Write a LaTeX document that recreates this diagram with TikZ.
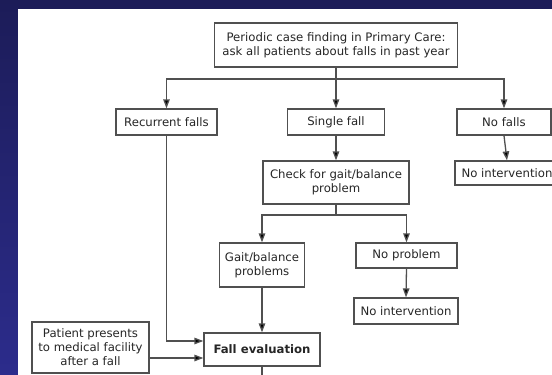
\documentclass[tikz,border=0pt]{standalone}
\usepackage{fontspec}
\setmainfont{DejaVu Sans}
\usetikzlibrary{arrows.meta}
\definecolor{navy}{HTML}{1C1C58}
\definecolor{navyb}{HTML}{2C2C8C}
\definecolor{boxline}{HTML}{505050}
\tikzset{
  box/.style={draw=boxline, line width=1.3pt, fill=white, inner sep=0pt, align=center, font=\fontsize{11.7}{14}\selectfont, text=black!85},
  conn/.style={draw=boxline, line width=1.3pt},
  arr/.style={conn, -{Triangle[length=9pt,width=6.5pt,fill=black]}}
}
\begin{document}
\begin{tikzpicture}[x=1pt,y=-1pt]
\useasboundingbox (0,0) rectangle (552,375);
\shade[top color=navy, bottom color=navyb] (0,0) rectangle (18,375);
\fill[navy] (18,0) rectangle (552,9);
\fill[white] (18,9) rectangle (552,375);
\begin{scope}
\clip (18,9) rectangle (552,375);
% boxes
\node[box, minimum width=243pt, minimum height=44pt] (top) at (336,45) {Periodic case finding in Primary Care:\\ask all patients about falls in past year};
\node[box, minimum width=101pt, minimum height=26pt] (rec) at (166.5,122) {Recurrent falls};
\node[box, minimum width=97pt, minimum height=26pt] (single) at (336,122) {Single fall};
\node[box, minimum width=94pt, minimum height=26pt] (nofalls) at (504,122) {No falls};
\node[box, minimum width=104pt, minimum height=24pt] (noint1) at (507,173) {No intervention};
\node[box, minimum width=146pt, minimum height=43pt] (check) at (336,182.5) {Check for gait/balance\\problem};
\node[box, minimum width=85pt, minimum height=44pt] (gait) at (262,265) {Gait/balance\\problems};
\node[box, minimum width=101pt, minimum height=25pt] (noprob) at (406.5,255.5) {No problem};
\node[box, minimum width=104pt, minimum height=26pt] (noint2) at (406,311) {No intervention};
\node[box, minimum width=116pt, minimum height=33pt, font=\fontsize{11.7}{14}\selectfont\bfseries] (fall) at (262,349.5) {Fall evaluation};
\node[box, minimum width=117pt, minimum height=51pt] (pat) at (90.5,347.5) {Patient presents\\to medical facility\\after a fall};
% connectors
\coordinate (j1) at (336,79);
\draw[conn] (top.south) -- (j1);
\draw[arr] (j1) -| (rec.north);
\draw[arr] (j1) -- (single.north);
\draw[arr] (j1) -| (nofalls.north);
\draw[arr] (nofalls.south) -- (noint1.north);
\draw[arr] (single.south) -- (check.north);
\coordinate (j2) at (336,215);
\draw[conn] (check.south) -- (j2);
\draw[arr] (j2) -| (gait.north);
\draw[arr] (j2) -| (noprob.north);
\draw[arr] (noprob.south) -- (noint2.north);
\draw[arr] (gait.south) -- (fall.north);
\draw[arr] (rec.south) |- (fall.west |- 0,341);
\draw[arr] (pat.east |- 0,358) -- (fall.west |- 0,358);
\coordinate (bot) at (262,380);
\draw[conn] (fall.south) -- (bot);
\end{scope}
\end{tikzpicture}
\end{document}
